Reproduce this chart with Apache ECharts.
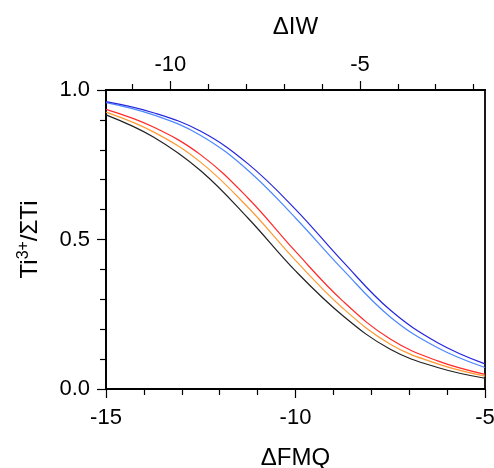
<!DOCTYPE html>
<html>
<head>
<meta charset="utf-8">
<script src="https://cdn.jsdelivr.net/npm/echarts@6/dist/echarts.min.js"></script>
<style>
html,body{margin:0;padding:0;background:#fff;}
#c{width:494px;height:468px;}
</style>
</head>
<body>
<div id="c"></div>
<script>
var fmq = [-15, -13.75, -12.5, -11.25, -10, -8.75, -7.5, -6.25, -5];
var darkBlue  = [0.961, 0.924, 0.862, 0.753, 0.601, 0.426, 0.264, 0.155, 0.084];
var lightBlue = [0.958, 0.917, 0.848, 0.731, 0.572, 0.399, 0.241, 0.138, 0.072];
var red       = [0.935, 0.876, 0.783, 0.638, 0.460, 0.294, 0.167, 0.094, 0.049];
var orange    = [0.926, 0.860, 0.758, 0.607, 0.430, 0.270, 0.150, 0.084, 0.043];
var black     = [0.917, 0.843, 0.730, 0.571, 0.395, 0.245, 0.133, 0.072, 0.036];
var iwMajor = [-10, -5];
var iwMinor = [-11, -9, -8, -7, -6, -4, -3, -2];

var FONT = "'Liberation Sans', Arial, Helvetica, sans-serif";
function pairs(ys){ return fmq.map(function(x,i){ return [x, ys[i]]; }); }
function ser(name, ys, color){
  return {name:name, type:'line', data:pairs(ys), smooth:0.4, showSymbol:false, symbol:'none',
          lineStyle:{color:color, width:1.2}, itemStyle:{color:color}, xAxisIndex:0, yAxisIndex:0, z:3};
}
var chart = echarts.init(document.getElementById('c'), null, {renderer:'canvas'});
var axLine = {show:true, lineStyle:{color:'#000', width:1.8}};
var tickStyle = {color:'#000', width:1.2};
chart.setOption({
  animation:false,
  backgroundColor:'#fff',
  grid:{left:106, right:9, top:90, bottom:79, show:true, borderColor:'#000', borderWidth:1.8,
        backgroundColor:'transparent', containLabel:false, outerBoundsMode:'none'},
  xAxis:[
    {type:'value', position:'bottom', min:-15, max:-5, interval:5,
     axisLine:axLine, axisTick:{show:true, inside:false, length:9, lineStyle:tickStyle},
     minorTick:{show:true, splitNumber:5, length:6, lineStyle:tickStyle},
     splitLine:{show:false}, minorSplitLine:{show:false},
     axisLabel:{fontSize:22, color:'#000', fontFamily:FONT, margin:18},
     name:'ΔFMQ', nameLocation:'middle', nameGap:57, nameMoveOverlap:false,
     nameTextStyle:{fontSize:24, color:'#000', fontFamily:FONT}},
    {type:'value', position:'top', min:-11.7, max:-1.7,
     axisLine:axLine,
     axisTick:{show:true, inside:false, length:9, customValues:iwMajor, lineStyle:tickStyle},
     splitLine:{show:false},
     axisLabel:{fontSize:22, color:'#000', fontFamily:FONT, margin:14, customValues:iwMajor},
     name:'ΔIW', nameLocation:'middle', nameGap:51, nameMoveOverlap:false,
     nameTextStyle:{fontSize:24, color:'#000', fontFamily:FONT}},
    {type:'value', position:'top', min:-11.7, max:-1.7,
     axisLine:{show:false},
     axisTick:{show:true, inside:false, length:6, customValues:iwMinor, lineStyle:tickStyle},
     splitLine:{show:false},
     axisLabel:{show:false}}
  ],
  yAxis:[
    {type:'value', position:'left', min:0, max:1, interval:0.5,
     axisLine:axLine, axisTick:{show:true, inside:false, length:9, lineStyle:tickStyle},
     minorTick:{show:true, splitNumber:5, length:6, lineStyle:tickStyle},
     splitLine:{show:false}, minorSplitLine:{show:false},
     axisLabel:{fontSize:22, color:'#000', fontFamily:FONT, margin:16,
                formatter:function(v){ return v.toFixed(1); }},
     name:'Ti{sup|3+}/ΣTi', nameLocation:'middle', nameGap:62, nameMoveOverlap:false,
     nameTextStyle:{fontSize:24, color:'#000', fontFamily:FONT, lineHeight:28,
       rich:{sup:{fontSize:16, color:'#000', fontFamily:FONT, verticalAlign:'top', lineHeight:28}}}}
  ],
  series:[
    ser('black', black, '#222222'),
    ser('orange', orange, '#ff9933'),
    ser('red', red, '#ff2a2a'),
    ser('lightBlue', lightBlue, '#4d88ff'),
    ser('darkBlue', darkBlue, '#2626dd')
  ]
});
</script>
</body>
</html>
